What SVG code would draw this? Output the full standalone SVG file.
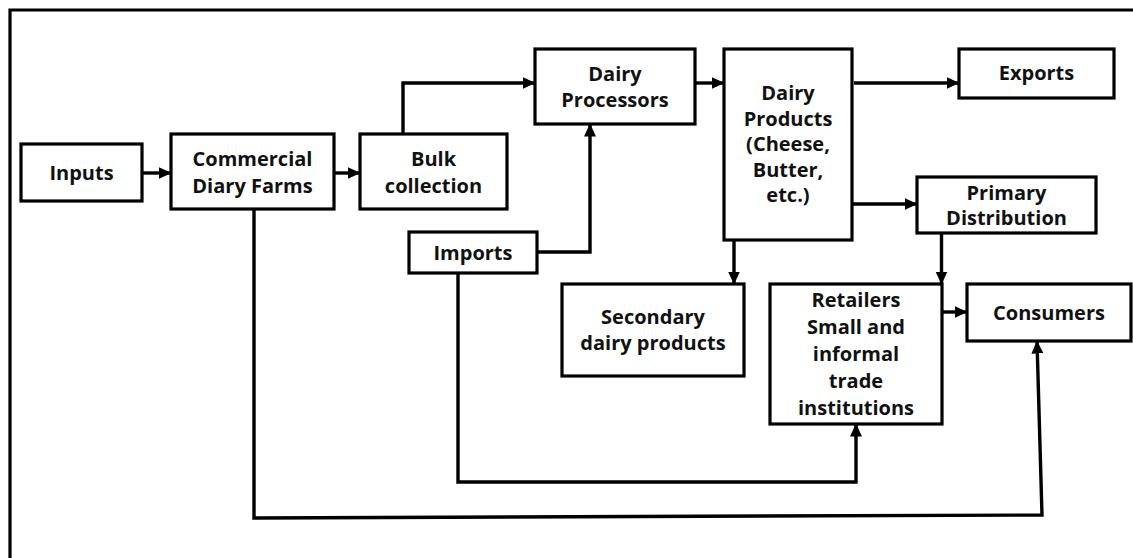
<svg xmlns="http://www.w3.org/2000/svg" width="1133" height="558" viewBox="0 0 1133 558">
  <style>
    .box { fill: #ffffff; stroke: #000000; stroke-width: 3.2; }
    .frame { fill: none; stroke: #000000; stroke-width: 3.2; }
    .link { fill: none; stroke: #000000; stroke-width: 3.4; stroke-linejoin: miter; marker-end: url(#head); }
    .link-plain { fill: none; stroke: #000000; stroke-width: 3.4; }
    text { font-family: "Open Sans", "Liberation Sans", Arial, sans-serif; font-weight: 700; font-size: 20px; fill: #111111; text-anchor: middle; }
  </style>
  <defs>
    <marker id="head" markerUnits="userSpaceOnUse" markerWidth="13" markerHeight="13" viewBox="0 0 13 13" refX="12.5" refY="6.5" orient="auto">
      <path d="M0,0.5 L13,6.5 L0,12.5 Z" fill="#000000"/>
    </marker>
  </defs>

  <rect width="1133" height="558" fill="#ffffff"/>

  <!-- outer frame: top and left edges -->
  <path class="frame" d="M10,560 V10 H1135"/>

  <!-- connectors -->
  <g id="connectors">
    <path class="link" d="M142,173 H171"/>
    <path class="link" d="M334,173 H360"/>
    <path class="link" d="M403,134 V83 H535"/>
    <path class="link" d="M537,252 H590 V124"/>
    <path class="link" d="M695,83 H724"/>
    <path class="link" d="M854,83 H959"/>
    <path class="link" d="M853,204 H917"/>
    <path class="link" d="M734,240 V284"/>
    <path class="link" d="M941.5,233 V284"/>
    <path class="link" d="M942,312 H967"/>
    <path class="link" d="M458,273 V482 H856 V424"/>
    <path class="link" d="M254,209 V518 L1042,515 L1037,341"/>
  </g>

  <g id="inputs">
    <rect class="box" x="21" y="144" width="121" height="57"/>
    <text x="81.5" y="180">Inputs</text>
  </g>

  <g id="commercial-farms">
    <rect class="box" x="171" y="134" width="163" height="75"/>
    <text x="252.5" y="166">Commercial</text>
    <text x="252.5" y="193">Diary Farms</text>
  </g>

  <g id="bulk-collection">
    <rect class="box" x="360" y="134" width="147" height="75"/>
    <text x="433.5" y="166">Bulk</text>
    <text x="433.5" y="193">collection</text>
  </g>

  <g id="dairy-processors">
    <rect class="box" x="535" y="49" width="160" height="75"/>
    <text x="615" y="81">Dairy</text>
    <text x="615" y="107">Processors</text>
  </g>

  <g id="imports">
    <rect class="box" x="409" y="232" width="128" height="41"/>
    <text x="473" y="260">Imports</text>
  </g>

  <g id="dairy-products">
    <rect class="box" x="724" y="49" width="128" height="191"/>
    <text x="788" y="100">Dairy</text>
    <text x="788" y="125.5">Products</text>
    <text x="788" y="151">(Cheese,</text>
    <text x="788" y="176.5">Butter,</text>
    <text x="788" y="202">etc.)</text>
  </g>

  <g id="exports">
    <rect class="box" x="959" y="49" width="155" height="49"/>
    <text x="1036.5" y="80">Exports</text>
  </g>

  <g id="primary-distribution">
    <rect class="box" x="917" y="177" width="179" height="56"/>
    <text x="1006.5" y="200">Primary</text>
    <text x="1006.5" y="225">Distribution</text>
  </g>

  <g id="secondary-products">
    <rect class="box" x="562" y="284" width="182" height="92"/>
    <text x="653" y="324">Secondary</text>
    <text x="653" y="350">dairy products</text>
  </g>

  <g id="retailers">
    <rect class="box" x="770" y="284" width="172" height="140"/>
    <text x="856" y="307">Retailers</text>
    <text x="856" y="334">Small and</text>
    <text x="856" y="361">informal</text>
    <text x="856" y="388">trade</text>
    <text x="856" y="415">institutions</text>
  </g>

  <g id="consumers">
    <rect class="box" x="967" y="284" width="164" height="57"/>
    <text x="1049" y="320">Consumers</text>
  </g>
</svg>
